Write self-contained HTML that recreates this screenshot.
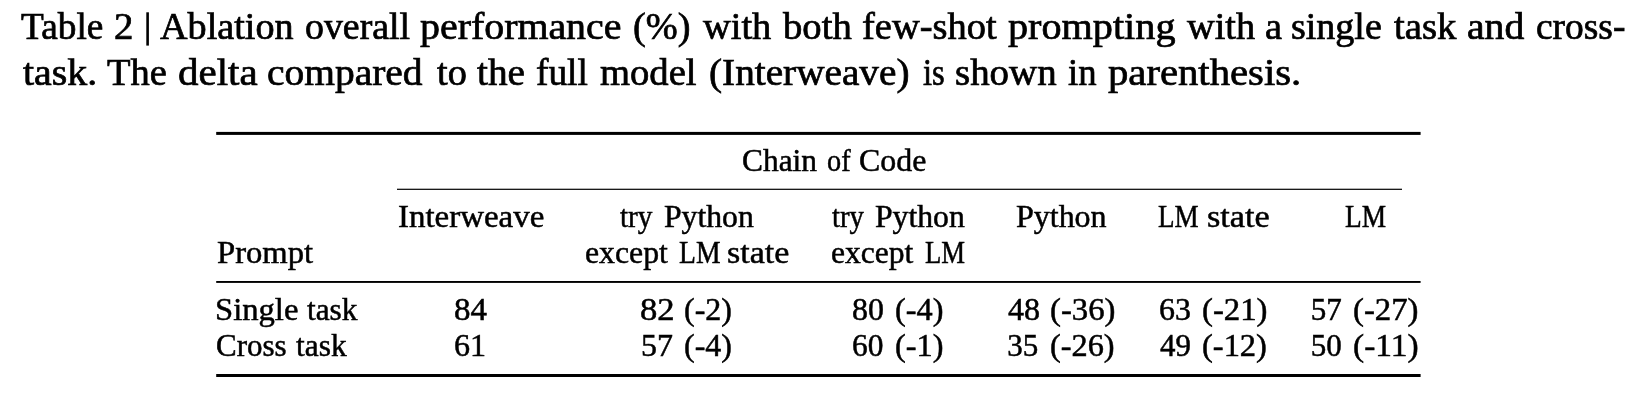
<!DOCTYPE html>
<html>
<head>
<meta charset="utf-8">
<title>Table 2</title>
<style>
html,body{margin:0;padding:0;background:#fff;}
body{width:1648px;height:400px;position:relative;overflow:hidden;will-change:transform;filter:grayscale(1);font-family:"Liberation Serif",serif;color:#000;}
.w{position:absolute;white-space:pre;line-height:1;transform-origin:0 0;}
.c{font-size:37px;-webkit-text-stroke:0.70px #000;}
.t{font-size:31px;-webkit-text-stroke:0.50px #000;}
.r{position:absolute;background:#000;}
</style>
</head>
<body>
<span class="w c" style="left:21.35px;top:7.61px;transform:scaleX(1.0083)">Table</span>
<span class="w c" style="left:114.32px;top:7.61px;transform:scaleX(1.0479)">2</span>
<span class="w c" style="left:160.36px;top:7.61px;transform:scaleX(1.0314)">Ablation</span>
<span class="w c" style="left:304.84px;top:7.61px;transform:scaleX(1.0230)">overall</span>
<span class="w c" style="left:419.88px;top:7.61px;transform:scaleX(1.0777)">performance</span>
<span class="w c" style="left:633.08px;top:7.61px;transform:scaleX(1.0354)">(%)</span>
<span class="w c" style="left:702.86px;top:7.61px;transform:scaleX(1.0376)">with</span>
<span class="w c" style="left:782.87px;top:7.61px;transform:scaleX(1.0451)">both</span>
<span class="w c" style="left:862.32px;top:7.61px;transform:scaleX(1.0394)">few-shot</span>
<span class="w c" style="left:1007.88px;top:7.61px;transform:scaleX(1.0864)">prompting</span>
<span class="w c" style="left:1186.61px;top:7.61px;transform:scaleX(1.0339)">with</span>
<span class="w c" style="left:1264.83px;top:7.61px;transform:scaleX(1.0350)">a</span>
<span class="w c" style="left:1291.33px;top:7.61px;transform:scaleX(1.0267)">single</span>
<span class="w c" style="left:1394.12px;top:7.61px;transform:scaleX(1.0485)">task</span>
<span class="w c" style="left:1467.30px;top:7.61px;transform:scaleX(1.0723)">and</span>
<span class="w c" style="left:1535.59px;top:7.61px;transform:scaleX(1.0116)">cross-</span>
<span class="w c" style="left:22.88px;top:53.51px;transform:scaleX(1.0772)">task.</span>
<span class="w c" style="left:107.26px;top:53.51px;transform:scaleX(1.0398)">The</span>
<span class="w c" style="left:178.03px;top:53.51px;transform:scaleX(1.1063)">delta</span>
<span class="w c" style="left:267.31px;top:53.51px;transform:scaleX(1.0663)">compared</span>
<span class="w c" style="left:436.61px;top:53.51px;transform:scaleX(1.0352)">to</span>
<span class="w c" style="left:476.62px;top:53.51px;transform:scaleX(1.0609)">the</span>
<span class="w c" style="left:535.59px;top:53.51px;transform:scaleX(1.0088)">full</span>
<span class="w c" style="left:599.62px;top:53.51px;transform:scaleX(1.0441)">model</span>
<span class="w c" style="left:709.31px;top:53.51px;transform:scaleX(1.0608)">(Interweave)</span>
<span class="w c" style="left:923.31px;top:53.51px;transform:scaleX(0.8807)">is</span>
<span class="w c" style="left:954.82px;top:53.51px;transform:scaleX(1.0515)">shown</span>
<span class="w c" style="left:1067.85px;top:53.51px;transform:scaleX(0.9921)">in</span>
<span class="w c" style="left:1107.88px;top:53.51px;transform:scaleX(1.0997)">parenthesis.</span>
<span class="w t" style="left:742.24px;top:145.34px;transform:scaleX(1.0128)">Chain</span>
<span class="w t" style="left:826.81px;top:145.34px;transform:scaleX(0.9135)">of</span>
<span class="w t" style="left:858.73px;top:145.34px;transform:scaleX(1.0284)">Code</span>
<span class="w t" style="left:398.20px;top:200.74px;transform:scaleX(1.0629)">Interweave</span>
<span class="w t" style="left:620.34px;top:200.74px;transform:scaleX(0.9425)">try</span>
<span class="w t" style="left:664.36px;top:200.74px;transform:scaleX(1.0219)">Python</span>
<span class="w t" style="left:584.63px;top:237.34px;transform:scaleX(1.0238)">except</span>
<span class="w t" style="left:679.02px;top:237.34px;transform:scaleX(0.8915)">LM</span>
<span class="w t" style="left:727.38px;top:237.34px;transform:scaleX(1.0963)">state</span>
<span class="w t" style="left:831.83px;top:200.74px;transform:scaleX(0.9256)">try</span>
<span class="w t" style="left:875.36px;top:200.74px;transform:scaleX(1.0219)">Python</span>
<span class="w t" style="left:830.84px;top:237.34px;transform:scaleX(1.0176)">except</span>
<span class="w t" style="left:924.72px;top:237.34px;transform:scaleX(0.8614)">LM</span>
<span class="w t" style="left:1016.16px;top:200.74px;transform:scaleX(1.0309)">Python</span>
<span class="w t" style="left:1157.92px;top:200.74px;transform:scaleX(0.8743)">LM</span>
<span class="w t" style="left:1206.77px;top:200.74px;transform:scaleX(1.1053)">state</span>
<span class="w t" style="left:1344.82px;top:200.74px;transform:scaleX(0.8829)">LM</span>
<span class="w t" style="left:217.26px;top:237.34px;transform:scaleX(1.0523)">Prompt</span>
<span class="w t" style="left:214.66px;top:293.64px;transform:scaleX(1.0524)">Single</span>
<span class="w t" style="left:306.75px;top:293.64px;transform:scaleX(1.0111)">task</span>
<span class="w t" style="left:454.20px;top:293.64px;transform:scaleX(1.0645)">84</span>
<span class="w t" style="left:640.26px;top:293.64px;transform:scaleX(1.1172)">82</span>
<span class="w t" style="left:683.83px;top:293.64px;transform:scaleX(1.0303)">(-2)</span>
<span class="w t" style="left:851.73px;top:293.64px;transform:scaleX(1.0300)">80</span>
<span class="w t" style="left:894.62px;top:293.64px;transform:scaleX(1.0415)">(-4)</span>
<span class="w t" style="left:1007.66px;top:293.64px;transform:scaleX(1.0355)">48</span>
<span class="w t" style="left:1050.11px;top:293.64px;transform:scaleX(1.0574)">(-36)</span>
<span class="w t" style="left:1158.73px;top:293.64px;transform:scaleX(1.0300)">63</span>
<span class="w t" style="left:1201.61px;top:293.64px;transform:scaleX(1.0574)">(-21)</span>
<span class="w t" style="left:1310.75px;top:293.64px;transform:scaleX(1.0000)">57</span>
<span class="w t" style="left:1353.01px;top:293.64px;transform:scaleX(1.0574)">(-27)</span>
<span class="w t" style="left:215.75px;top:330.24px;transform:scaleX(0.9991)">Cross</span>
<span class="w t" style="left:295.65px;top:330.24px;transform:scaleX(1.0130)">task</span>
<span class="w t" style="left:454.22px;top:330.24px;transform:scaleX(1.0345)">61</span>
<span class="w t" style="left:641.23px;top:330.24px;transform:scaleX(1.0300)">57</span>
<span class="w t" style="left:683.83px;top:330.24px;transform:scaleX(1.0303)">(-4)</span>
<span class="w t" style="left:852.24px;top:330.24px;transform:scaleX(1.0133)">60</span>
<span class="w t" style="left:894.62px;top:330.24px;transform:scaleX(1.0415)">(-1)</span>
<span class="w t" style="left:1007.25px;top:330.24px;transform:scaleX(1.0000)">35</span>
<span class="w t" style="left:1050.12px;top:330.24px;transform:scaleX(1.0425)">(-26)</span>
<span class="w t" style="left:1159.75px;top:330.24px;transform:scaleX(0.9968)">49</span>
<span class="w t" style="left:1201.61px;top:330.24px;transform:scaleX(1.0474)">(-12)</span>
<span class="w t" style="left:1310.75px;top:330.24px;transform:scaleX(1.0000)">50</span>
<span class="w t" style="left:1352.99px;top:330.24px;transform:scaleX(1.0780)">(-11)</span>
<svg style="position:absolute;left:0;top:0" width="1648" height="400" viewBox="0 0 1648 400">
<rect x="146.30" y="12.30" width="2.60" height="33.30" fill="#000"/>
<rect x="216.20" y="131.90" width="1204.40" height="3.00" fill="#000"/>
<rect x="397.00" y="188.70" width="1005.00" height="1.20" fill="#000"/>
<rect x="216.20" y="281.00" width="1204.40" height="1.90" fill="#000"/>
<rect x="216.20" y="374.00" width="1204.40" height="3.00" fill="#000"/>
</svg>
</body>
</html>
